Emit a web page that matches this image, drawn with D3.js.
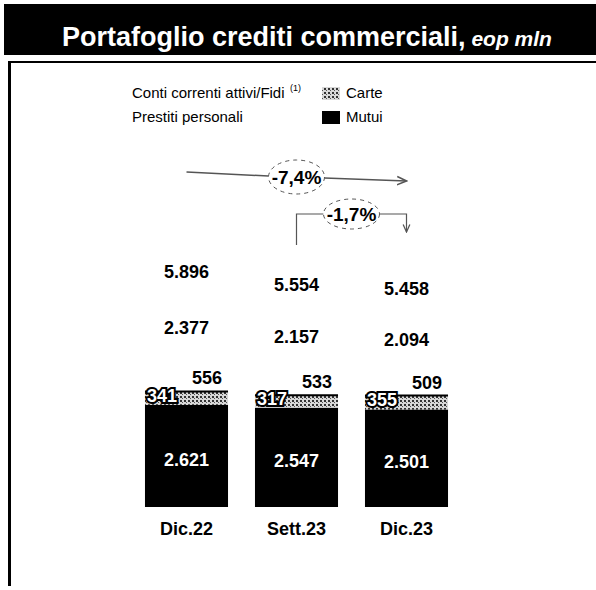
<!DOCTYPE html>
<html>
<head>
<meta charset="utf-8">
<title>Portafoglio crediti commerciali</title>
<script src="https://cdn.jsdelivr.net/npm/d3@7"></script>
<style>
body { margin: 0; background: #fff; }
text { font-family: "Liberation Sans", Arial, sans-serif; }
</style>
</head>
<body>
<div id="chart"></div>
<script>

var categories = ["Dic.22", "Sett.23", "Dic.23"];
var mutui = [2621, 2547, 2501];
var carte = [341, 317, 355];
var conti = [556, 533, 509];
var prestiti = [2377, 2157, 2094];
var totals = [5896, 5554, 5458];
var changes = ["-7,4%", "-1,7%"];

var width = 596;
var height = 590;

var it = d3.formatLocale({decimal: ",", thousands: ".", grouping: [3], currency: ["", "€"]});
var fmt = it.format(",d");

var svg = d3.select("#chart")
	.append("svg")
		.attr("width", width)
		.attr("height", height);

// hatched fill for "Carte"
var pat = svg.append("defs").append("pattern")
	.attr("id", "hatch")
	.attr("patternUnits", "userSpaceOnUse")
	.attr("width", 4)
	.attr("height", 4);
pat.append("rect").attr("width", 4).attr("height", 4).attr("fill", "#d8d8d8");
pat.append("rect").attr("x", 0).attr("y", 0).attr("width", 2).attr("height", 2).attr("fill", "#333");
pat.append("rect").attr("x", 2).attr("y", 2).attr("width", 1).attr("height", 1).attr("fill", "#555");

// header band
svg.append("rect")
	.attr("x", 4).attr("y", 4)
	.attr("width", width - 4).attr("height", 51)
	.attr("fill", "#000");

var title = svg.append("text")
	.attr("x", 62).attr("y", 46)
	.attr("fill", "#fff")
	.style("font-size", "27px")
	.style("font-weight", "bold");
title.append("tspan").text("Portafoglio crediti commerciali,");
title.append("tspan")
	.text(" eop mln")
	.style("font-style", "italic")
	.style("font-size", "21px");

// frame lines
svg.append("line")
	.attr("x1", 8).attr("x2", width).attr("y1", 62).attr("y2", 62)
	.attr("stroke", "#000").attr("stroke-width", 2);
svg.append("line")
	.attr("x1", 9.5).attr("x2", 9.5).attr("y1", 62).attr("y2", 586)
	.attr("stroke", "#000").attr("stroke-width", 3);

// legend
var legend = svg.append("g").style("font-size", "15px");
legend.append("text").attr("x", 132).attr("y", 98).text("Conti correnti attivi/Fidi");
legend.append("text").attr("x", 290).attr("y", 91).text("(1)").style("font-size", "9px");
legend.append("text").attr("x", 132).attr("y", 122).text("Prestiti personali");
legend.append("rect").attr("x", 322).attr("y", 87).attr("width", 18).attr("height", 13).attr("fill", "url(#hatch)");
legend.append("text").attr("x", 346).attr("y", 98).text("Carte");
legend.append("rect").attr("x", 322).attr("y", 111).attr("width", 18).attr("height", 13).attr("fill", "#000");
legend.append("text").attr("x", 346).attr("y", 122).text("Mutui");

// scales
var x = d3.scaleBand()
	.domain(categories)
	.range([131.5, 461.5])
	.paddingInner(0.245)
	.paddingOuter(0.1225);

var y = d3.scaleLinear()
	.domain([0, 6000])
	.range([507, 273]);

var rows = categories.map(function(c, i) {
	return {cat: c, mutui: mutui[i], carte: carte[i], conti: conti[i], prestiti: prestiti[i], total: totals[i]};
});

var keys = ["mutui", "carte", "conti", "prestiti"];
var fills = {mutui: "#000", carte: "url(#hatch)", conti: "#fff", prestiti: "#fff"};
var series = d3.stack().keys(keys)(rows);

var g = svg.append("g");

g.selectAll("g.layer")
	.data(series)
	.enter()
	.append("g")
		.attr("class", "layer")
		.attr("fill", function(s) { return fills[s.key]; })
	.selectAll("rect")
	.data(function(s) { return s; })
	.enter()
	.append("rect")
		.attr("x", function(d) { return x(d.data.cat); })
		.attr("y", function(d) { return y(d[1]); })
		.attr("width", x.bandwidth())
		.attr("height", function(d) { return y(d[0]) - y(d[1]); });

// top edge of the carte segment
g.selectAll("line.carte")
	.data(series[1])
	.enter()
	.append("line")
		.attr("x1", function(d) { return x(d.data.cat); })
		.attr("x2", function(d) { return x(d.data.cat) + x.bandwidth(); })
		.attr("y1", function(d) { return y(d[1]); })
		.attr("y2", function(d) { return y(d[1]); })
		.attr("stroke", "#000")
		.attr("stroke-width", 2);

var labels = svg.append("g")
	.style("font-size", "18px")
	.style("font-weight", "bold");

// mutui
labels.selectAll("t.mutui")
	.data(series[0])
	.enter()
	.append("text")
		.text(function(d) { return fmt(d.data.mutui); })
		.attr("x", function(d) { return x(d.data.cat) + x.bandwidth() / 2; })
		.attr("y", function(d) { return (y(d[0]) + y(d[1])) / 2 + 10; })
		.attr("text-anchor", "middle")
		.attr("fill", "#fff");

// carte
labels.selectAll("t.carte")
	.data(series[1])
	.enter()
	.append("text")
		.text(function(d) { return fmt(d.data.carte); })
		.attr("x", function(d) { return x(d.data.cat) + 2; })
		.attr("y", function(d) { return y(d[0]) - 3; })
		.attr("fill", "#fff")
		.attr("stroke", "#000")
		.attr("stroke-width", 4)
		.attr("paint-order", "stroke");

// conti
labels.selectAll("t.conti")
	.data(series[2])
	.enter()
	.append("text")
		.text(function(d) { return fmt(d.data.conti); })
		.attr("x", function(d) { return x(d.data.cat) + x.bandwidth() - 21; })
		.attr("y", function(d) { return y(d[0]) - 7; })
		.attr("text-anchor", "middle");

// prestiti
labels.selectAll("t.prestiti")
	.data(series[3])
	.enter()
	.append("text")
		.text(function(d) { return fmt(d.data.prestiti); })
		.attr("x", function(d) { return x(d.data.cat) + x.bandwidth() / 2; })
		.attr("y", function(d) { return (y(d[0]) + y(d[1])) / 2 + 11; })
		.attr("text-anchor", "middle");

// totals
labels.selectAll("t.total")
	.data(rows)
	.enter()
	.append("text")
		.text(function(d) { return fmt(d.total); })
		.attr("x", function(d) { return x(d.cat) + x.bandwidth() / 2; })
		.attr("y", function(d) { return y(d.total) + 1; })
		.attr("text-anchor", "middle");

// categories
labels.selectAll("t.cat")
	.data(categories)
	.enter()
	.append("text")
		.text(function(d) { return d; })
		.attr("x", function(d) { return x(d) + x.bandwidth() / 2; })
		.attr("y", 535)
		.attr("text-anchor", "middle");

// change annotations
svg.append("defs").append("marker")
	.attr("id", "arrow")
	.attr("viewBox", "0 0 10 10")
	.attr("refX", 9).attr("refY", 5)
	.attr("markerWidth", 7).attr("markerHeight", 7)
	.attr("orient", "auto")
	.append("path")
		.attr("d", "M0,1 L9,5 L0,9")
		.attr("fill", "none")
		.attr("stroke", "#555")
		.attr("stroke-width", 1.5);

var ann = svg.append("g");
var cx0 = x(categories[0]) + x.bandwidth() / 2;
var cx1 = x(categories[1]) + x.bandwidth() / 2;
var cx2 = x(categories[2]) + x.bandwidth() / 2;

var ay = 177;
ann.append("line")
	.attr("x1", cx0).attr("y1", ay - 5).attr("x2", cx1 - 28).attr("y2", ay - 1)
	.attr("stroke", "#555").attr("stroke-width", 1.5);
ann.append("line")
	.attr("x1", cx1 + 28).attr("y1", ay + 1).attr("x2", cx2).attr("y2", ay + 4)
	.attr("stroke", "#555").attr("stroke-width", 1.5)
	.attr("marker-end", "url(#arrow)");
ann.append("ellipse")
	.attr("cx", cx1).attr("cy", ay).attr("rx", 28).attr("ry", 17)
	.attr("fill", "#fff").attr("stroke", "#555").attr("stroke-dasharray", "4,4");
ann.append("text")
	.text(changes[0])
	.attr("x", cx1).attr("y", ay + 7)
	.attr("text-anchor", "middle")
	.style("font-size", "19px").style("font-weight", "bold");

var by = 214;
var mid = (cx1 + cx2) / 2;
ann.append("path")
	.attr("d", "M" + cx1 + "," + (by + 31) + " V" + by + " H" + (mid - 28))
	.attr("fill", "none").attr("stroke", "#555").attr("stroke-width", 1.2);
ann.append("path")
	.attr("d", "M" + (mid + 28) + "," + by + " H" + cx2 + " V" + (by + 18))
	.attr("fill", "none").attr("stroke", "#555").attr("stroke-width", 1.2)
	.attr("marker-end", "url(#arrow)");
ann.append("ellipse")
	.attr("cx", mid).attr("cy", by).attr("rx", 28).attr("ry", 15)
	.attr("fill", "#fff").attr("stroke", "#555").attr("stroke-dasharray", "4,4");
ann.append("text")
	.text(changes[1])
	.attr("x", mid).attr("y", by + 7)
	.attr("text-anchor", "middle")
	.style("font-size", "19px").style("font-weight", "bold");

</script>
</body>
</html>
